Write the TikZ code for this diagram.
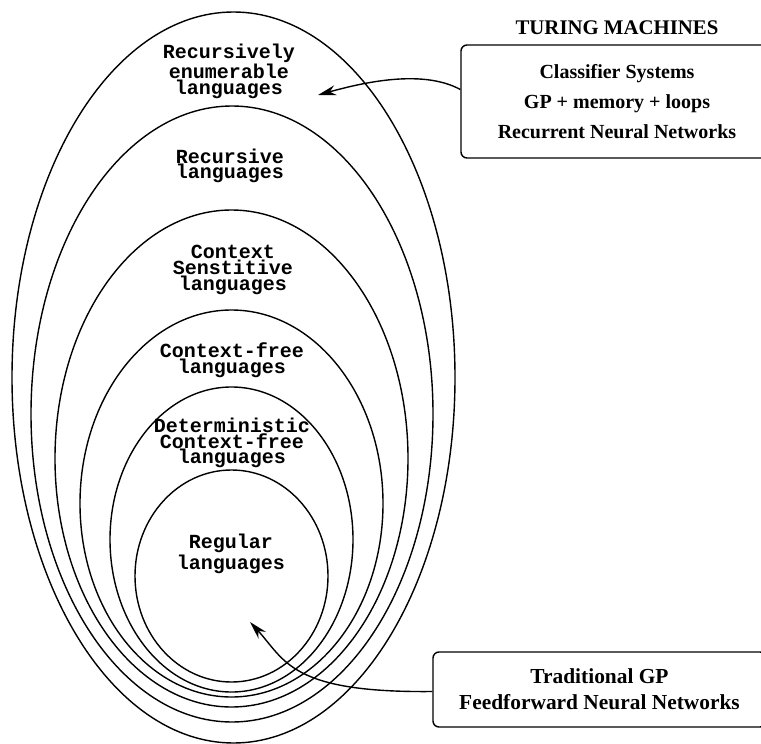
\documentclass[tikz,border=0pt]{standalone}
\usepackage{fontspec}
\setmainfont{Liberation Serif}
\newfontfamily\langfont{Liberation Mono}
\usepackage{tikz}
\usetikzlibrary{arrows.meta, positioning, calc}

\tikzset{
  langset/.style={line width=0.7pt},
  lang/.style={font=\langfont\bfseries\fontsize{10}{7.8}\selectfont, align=center, inner sep=0pt},
  machbox/.style={draw, rounded corners=3pt, line width=0.7pt, align=center, inner sep=0pt},
  pointer/.style={-{Stealth[length=9pt, width=5pt]}, line width=0.7pt},
}

\begin{document}
\begin{tikzpicture}[x=0.5pt, y=-0.5pt]
  \useasboundingbox (0,0) rectangle (761,744);
  \clip (0,0) rectangle (761,744);

  % nested classes of languages
  \draw[langset] (233.5,377.5) ellipse [x radius=221.5, y radius=365.5];
  \draw[langset] (232,414) ellipse [x radius=201, y radius=308];
  \draw[langset] (231.5,458.5) ellipse [x radius=176.5, y radius=248.5];
  \draw[langset] (231.5,503.5) ellipse [x radius=151.5, y radius=193.5];
  \draw[langset] (231.5,539.5) ellipse [x radius=121.5, y radius=152.5];
  \draw[langset] (231.5,576) ellipse [x radius=96.5, y radius=106];

  \node[lang] (re) at (229,71) {Recursively\\enumerable\\languages};
  \node[lang] (rec) at (230,166) {Recursive\\languages};
  \node[lang] (cs) at (233,270) {Context\\Senstitive\\languages};
  \node[lang] (cf) at (232,360) {Context-free\\languages};
  \node[lang] (dcf) at (232,443) {Deterministic\\Context-free\\languages};
  \node[lang] (reg) at (231,554) {Regular\\languages};

  % machines
  \node[font=\bfseries\fontsize{10.4}{12}\selectfont] (title) at (617,28) {TURING MACHINES};
  \node[machbox, font=\bfseries\fontsize{10}{15}\selectfont,
        minimum width=156pt, minimum height=56.5pt] (tm) at (617,101.5)
        {Classifier Systems\\GP + memory + loops\\Recurrent Neural Networks};
  \node[machbox, font=\bfseries\fontsize{10.7}{13}\selectfont,
        minimum width=166.5pt, minimum height=37.5pt] (ff) at (599.5,689.5)
        {Traditional GP\\Feedforward Neural Networks};

  \coordinate (reTip) at (318,95);
  \coordinate (regTip) at (250,622);

  \draw[pointer] ([yshift=6pt]tm.west) .. controls (421,68) and (358,84) .. (reTip);
  \draw[pointer] ([yshift=-1pt]ff.west) .. controls (290,693) and (285,660) .. (regTip);
\end{tikzpicture}
\end{document}
